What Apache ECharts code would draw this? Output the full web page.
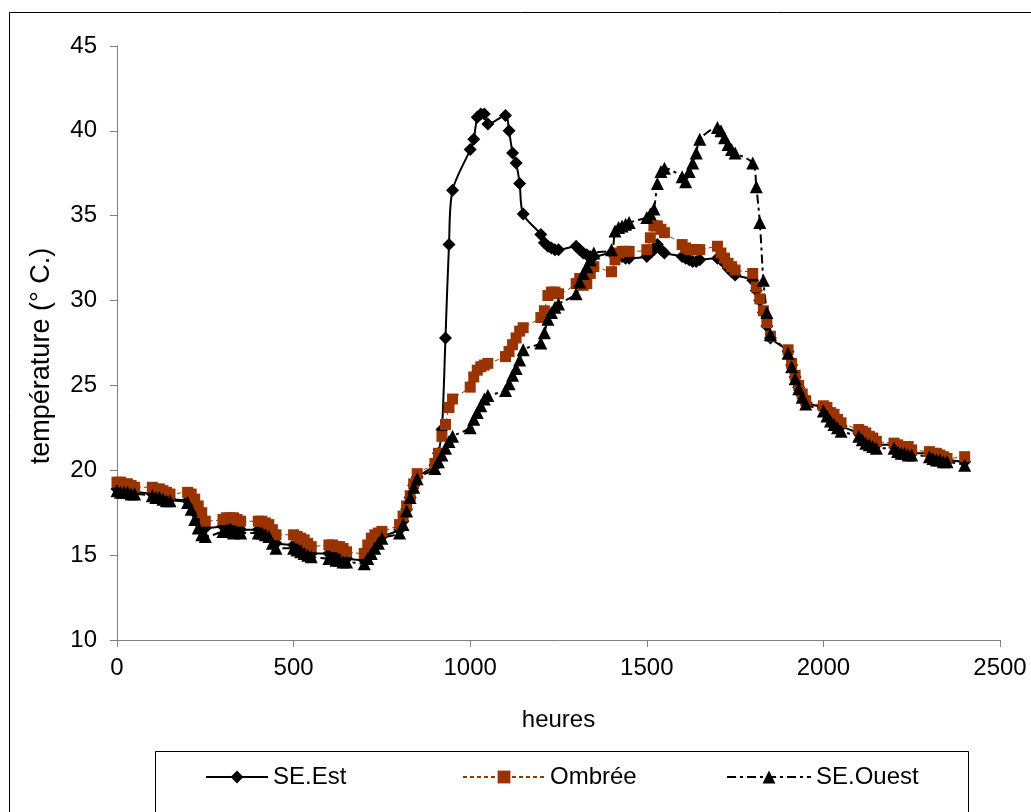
<!DOCTYPE html>
<html>
<head>
<meta charset="utf-8">
<script src="https://cdn.jsdelivr.net/npm/echarts@6/dist/echarts.min.js"></script>
<style>
html,body{margin:0;padding:0;background:#fff;}
#chart{width:1031px;height:812px;}
</style>
</head>
<body>
<div id="chart"></div>
<script>
// time of day (HHMM), 10-minute steps
const hours = [
  0,10,20,30,40,50,
  100,110,120,130,140,150,
  200,210,220,230,240,250,
  300,310,320,330,340,350,
  400,410,420,430,440,450,
  500,510,520,530,540,550,
  600,610,620,630,640,650,
  700,710,720,730,740,750,
  800,810,820,830,840,850,
  900,910,920,930,940,950,
  1000,1010,1020,1030,1040,1050,
  1100,1110,1120,1130,1140,1150,
  1200,1210,1220,1230,1240,1250,
  1300,1310,1320,1330,1340,1350,
  1400,1410,1420,1430,1440,1450,
  1500,1510,1520,1530,1540,1550,
  1600,1610,1620,1630,1640,1650,
  1700,1710,1720,1730,1740,1750,
  1800,1810,1820,1830,1840,1850,
  1900,1910,1920,1930,1940,1950,
  2000,2010,2020,2030,2040,2050,
  2100,2110,2120,2130,2140,2150,
  2200,2210,2220,2230,2240,2250,
  2300,2310,2320,2330,2340,2350,
  2400
];

const seEst = [
  18.9,18.9,18.8,18.8,18.7,18.7,
  18.6,18.5,18.5,18.4,18.4,18.3,
  18.2,18.0,17.5,17.0,16.7,16.6,
  16.7,16.8,16.8,16.7,16.6,16.5,
  16.5,16.5,16.4,16.3,16.0,15.7,
  15.6,15.5,15.4,15.3,15.2,15.1,
  15.1,15.0,15.0,14.9,14.9,14.8,
  14.7,15.0,15.4,15.7,15.9,16.1,
  16.5,17.0,17.7,18.4,19.1,19.6,
  20.3,21.0,22.4,27.8,33.3,36.5,
  38.9,39.5,40.8,41.0,41.0,40.4,
  40.9,40.0,38.7,38.1,36.9,35.1,
  33.9,33.4,33.2,33.1,33.0,33.0,
  33.2,33.0,32.8,32.7,32.6,32.6,
  32.8,32.7,32.6,32.6,32.5,32.5,
  32.6,32.8,33.0,33.3,33.0,32.8,
  32.6,32.5,32.4,32.3,32.3,32.4,
  32.5,32.4,32.2,31.9,31.7,31.5,
  31.2,30.6,30.0,29.3,28.5,27.8,
  27.0,26.2,25.5,24.9,24.4,24.0,
  23.7,23.5,23.2,23.0,22.8,22.6,
  22.2,22.1,21.9,21.8,21.7,21.5,
  21.5,21.3,21.2,21.2,21.1,21.0,
  21.0,20.9,20.8,20.7,20.7,20.6,
  20.5
];

const ombree = [
  19.3,19.3,19.2,19.2,19.1,19.0,
  19.0,18.9,18.9,18.8,18.7,18.6,
  18.7,18.6,18.3,17.9,17.5,17.0,
  17.1,17.2,17.2,17.2,17.1,17.0,
  17.0,17.0,16.9,16.8,16.5,16.2,
  16.2,16.1,16.0,15.9,15.7,15.5,
  15.6,15.6,15.5,15.5,15.4,15.2,
  15.1,15.6,16.0,16.2,16.3,16.4,
  16.8,17.3,17.9,18.5,19.2,19.8,
  20.4,21.0,22.0,22.7,23.7,24.2,
  24.9,25.5,25.9,26.1,26.2,26.3,
  26.7,27.0,27.4,27.8,28.2,28.4,
  29.0,29.4,30.3,30.5,30.5,30.4,
  31.0,31.3,30.9,31.0,31.6,32.0,
  31.7,32.4,32.8,32.9,32.9,32.9,
  33.0,33.7,34.4,34.4,34.2,34.0,
  33.3,33.1,33.0,33.0,33.0,33.0,
  33.2,32.8,32.5,32.2,32.0,31.8,
  31.6,30.8,30.1,29.4,28.7,27.9,
  27.1,26.3,25.6,25.0,24.5,24.1,
  23.8,23.7,23.4,23.3,23.0,22.8,
  22.4,22.3,22.2,22.0,21.9,21.7,
  21.6,21.5,21.4,21.4,21.4,21.2,
  21.1,21.0,21.0,20.9,20.8,20.7,
  20.8
];

const seOuest = [
  18.8,18.7,18.7,18.7,18.6,18.6,
  18.5,18.4,18.4,18.3,18.2,18.2,
  18.1,17.7,17.1,16.6,16.2,16.1,
  16.4,16.5,16.4,16.3,16.4,16.3,
  16.3,16.3,16.2,16.1,15.7,15.4,
  15.4,15.3,15.2,15.1,15.0,14.9,
  14.8,14.8,14.7,14.7,14.6,14.6,
  14.5,14.8,15.1,15.4,15.7,16.0,
  16.3,16.8,17.6,18.4,19.0,19.5,
  20.1,20.5,20.9,21.3,21.7,22.0,
  22.5,23.0,23.4,23.8,24.2,24.4,
  24.7,25.1,25.6,26.0,26.5,27.1,
  27.5,28.1,28.9,29.3,29.6,29.8,
  30.4,31.1,31.6,32.0,32.4,32.8,
  33.0,34.1,34.3,34.4,34.5,34.6,
  34.9,35.1,35.4,36.9,37.6,37.8,
  37.3,37.0,37.6,38.1,38.7,39.5,
  40.2,40.0,39.6,39.2,38.9,38.7,
  38.1,36.7,34.6,31.2,29.3,28.0,
  26.9,26.1,25.4,24.8,24.3,23.9,
  23.5,23.2,22.9,22.7,22.5,22.3,
  22.0,21.8,21.6,21.5,21.4,21.3,
  21.3,21.1,21.0,21.0,20.9,20.9,
  20.8,20.7,20.6,20.6,20.5,20.5,
  20.3
];

const seriesNames = ['SE.Est', 'Ombrée', 'SE.Ouest'];
const xTitle = 'heures';
const yTitle = 'température (° C.)';

const FONT = '"Liberation Sans", Arial, sans-serif';
const pair = arr => arr.map((v, i) => [hours[i], v]);

const chart = echarts.init(document.getElementById('chart'), null, {renderer: 'canvas'});

const legendBase = {
  top: 765,
  itemHeight: 16,
  textStyle: {fontFamily: FONT, fontSize: 24, color: '#000'},
  selectedMode: false,
  padding: 0,
  itemGap: 0
};

chart.setOption({
  animation: false,
  backgroundColor: '#fff',
  graphic: [
    {type: 'rect', shape: {x: 9.5, y: 12.5, width: 1100, height: 900}, style: {fill: 'none', stroke: '#000', lineWidth: 1}, silent: true, z: -1},
    {type: 'rect', shape: {x: 155.5, y: 751.5, width: 813, height: 100}, style: {fill: 'none', stroke: '#000', lineWidth: 1}, silent: true, z: -1}
  ],
  grid: {left: 117, right: 31, top: 46, bottom: 172, containLabel: false},
  xAxis: {
    type: 'value', min: 0, max: 2500, interval: 500,
    name: xTitle, nameLocation: 'middle', nameGap: 68,
    nameTextStyle: {fontFamily: FONT, fontSize: 24, color: '#000'},
    axisLine: {show: true, lineStyle: {color: '#808080', width: 1}},
    axisTick: {show: true, inside: false, length: 7, lineStyle: {color: '#808080'}},
    axisLabel: {fontFamily: FONT, fontSize: 24, color: '#000', margin: 16, formatter: v => String(v)},
    splitLine: {show: false}
  },
  yAxis: {
    type: 'value', min: 10, max: 45, interval: 5,
    name: yTitle, nameLocation: 'middle', nameGap: 62,
    nameTextStyle: {fontFamily: FONT, fontSize: 27, color: '#000', padding: [0, 26, 0, 0]},
    axisLine: {show: true, lineStyle: {color: '#808080', width: 1}},
    axisTick: {show: true, inside: false, length: 7, lineStyle: {color: '#808080'}},
    axisLabel: {fontFamily: FONT, fontSize: 24, color: '#000', margin: 20, formatter: v => String(v)},
    splitLine: {show: false}
  },
  legend: [
    Object.assign({}, legendBase, {left: 205, itemWidth: 62, data: [seriesNames[0]]}),
    Object.assign({}, legendBase, {left: 462, itemWidth: 82, data: [seriesNames[1]]}),
    Object.assign({}, legendBase, {left: 726, itemWidth: 84, data: [seriesNames[2]]})
  ],
  series: [
    {
      name: seriesNames[0], type: 'line', data: pair(seEst), smooth: 0.3,
      symbol: 'diamond', symbolSize: 13,
      lineStyle: {color: '#000', width: 2, type: 'solid'},
      itemStyle: {color: '#000', borderWidth: 0}
    },
    {
      name: seriesNames[1], type: 'line', data: pair(ombree), smooth: 0.3,
      symbol: 'rect', symbolSize: 11,
      lineStyle: {color: '#993300', width: 1, type: [4, 3]},
      itemStyle: {color: '#993300', borderWidth: 0}
    },
    {
      name: seriesNames[2], type: 'line', data: pair(seOuest), smooth: 0.3,
      symbol: 'triangle', symbolSize: 13,
      lineStyle: {color: '#000', width: 2, type: [9, 4, 3, 4]},
      itemStyle: {color: '#000', borderWidth: 0}
    }
  ]
});
</script>
</body>
</html>
